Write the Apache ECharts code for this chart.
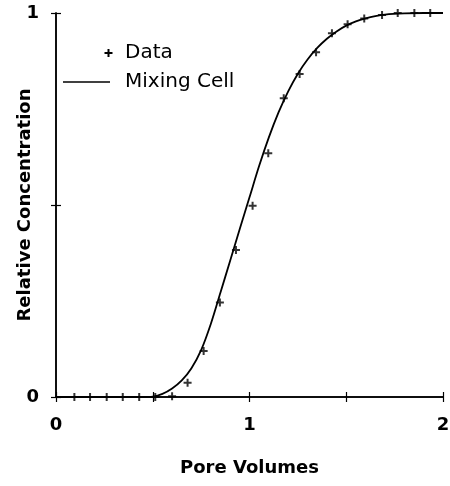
<!DOCTYPE html>
<html>
  <head>
    <meta charset="utf-8" />
    <title>Mixing Cell breakthrough</title>
    <script src="https://cdn.jsdelivr.net/npm/echarts@6.0.0/dist/echarts.min.js"></script>
  </head>
  <body style="margin:0;background:#fff;">
    <div id="main" style="width: 450px;height:486px;"></div>

    <script type="text/javascript">
      // measured data points (pore volumes, relative concentration)
      var dataX = [0.095, 0.176, 0.262, 0.345, 0.43, 0.513, 0.6, 0.68, 0.763, 0.847, 0.93, 1.016,
                   1.097, 1.177, 1.259, 1.344, 1.426, 1.507, 1.593, 1.685, 1.766, 1.852, 1.934];
      var dataY = [0, 0, 0, 0, 0, 0, 0.002, 0.037, 0.12, 0.246, 0.383, 0.498,
                   0.635, 0.778, 0.841, 0.898, 0.947, 0.971, 0.986, 0.995, 1.0, 1.0, 1.0];

      // mixing cell model curve
      var cellX = [0, 0.45, 0.5, 0.55, 0.6, 0.65, 0.7, 0.75, 0.8, 0.85, 0.9, 0.95, 1.0, 1.05, 1.1,
                   1.15, 1.2, 1.25, 1.3, 1.35, 1.4, 1.45, 1.5, 1.55, 1.6, 1.65, 1.7, 1.8, 1.9, 2.0];
      var cellY = [0, 0, 0.001, 0.008, 0.022, 0.043, 0.075, 0.122, 0.19, 0.272, 0.355, 0.438, 0.52, 0.602, 0.676,
                   0.741, 0.796, 0.842, 0.879, 0.909, 0.933, 0.952, 0.967, 0.978, 0.986, 0.992, 0.996, 0.999, 1.0, 1.0];

      var xTickLabels = ['0', '1', '2'];
      var yTickLabels = ['0', '1'];

      var plusPath = 'path://M3,0H5V3H8V5H5V8H3V5H0V3H3Z';
      var font = 'DejaVu Sans';

      var points = dataX.map(function (x, i) { return [x, dataY[i]]; });
      var curve = cellX.map(function (x, i) { return [x, cellY[i]]; });

      function label(list) {
        return function (v) {
          var s = String(Math.round(v * 100) / 100);
          return list.indexOf(s) >= 0 ? s : '';
        };
      }

      var myChart = echarts.init(document.getElementById('main'));

      var axisBase = {
        type: 'value',
        min: 0,
        interval: 0.5,
        splitLine: { show: false },
        axisLine: { lineStyle: { color: '#000', width: 1.5 } },
        axisTick: { inside: true, length: 5, lineStyle: { color: '#000', width: 1.2 } }
      };
      var labelStyle = { fontFamily: font, fontSize: 18, fontWeight: 'bold', color: '#000' };

      option = {
        animation: false,
        backgroundColor: '#fff',
        grid: { left: 56, right: 7, top: 13, bottom: 89, outerBoundsMode: 'none', containLabel: false },
        xAxis: [
          Object.assign({}, axisBase, {
            max: 2,
            name: 'Pore Volumes',
            nameLocation: 'middle',
            nameGap: 62,
            nameMoveOverlap: false,
            nameTextStyle: labelStyle,
            axisLabel: Object.assign({ formatter: label(xTickLabels), margin: 19 }, labelStyle)
          }),
          Object.assign({}, axisBase, { max: 2, position: 'top', axisLabel: { show: false } })
        ],
        yAxis: [
          Object.assign({}, axisBase, {
            max: 1,
            name: 'Relative Concentration',
            nameLocation: 'middle',
            nameGap: 22,
            nameMoveOverlap: false,
            nameTextStyle: labelStyle,
            axisLabel: Object.assign({ formatter: label(yTickLabels), margin: 17 }, labelStyle)
          }),
          Object.assign({}, axisBase, { max: 1, position: 'right', axisLabel: { show: false } })
        ],
        graphic: [
          { type: 'line', shape: { x1: 104.5, y1: 53, x2: 112.5, y2: 53 }, style: { stroke: '#000', lineWidth: 2 } },
          { type: 'line', shape: { x1: 108.5, y1: 49, x2: 108.5, y2: 57 }, style: { stroke: '#000', lineWidth: 2 } },
          { type: 'text', x: 125, y: 53, style: { text: 'Data', font: '20px DejaVu Sans', fill: '#000', verticalAlign: 'middle' } },
          { type: 'line', shape: { x1: 63, y1: 82, x2: 110, y2: 82 }, style: { stroke: '#000', lineWidth: 1.5 } },
          { type: 'text', x: 125, y: 82, style: { text: 'Mixing Cell', font: '20px DejaVu Sans', fill: '#000', verticalAlign: 'middle' } }
        ],
        series: [
          {
            name: 'Mixing Cell',
            type: 'line',
            data: curve,
            smooth: 0.3,
            showSymbol: false,
            lineStyle: { color: '#000', width: 1.8 },
            z: 2
          },
          {
            name: 'Data',
            type: 'scatter',
            data: points,
            symbol: plusPath,
            symbolSize: 8,
            itemStyle: { color: '#000' },
            z: 3
          }
        ]
      };

      myChart.setOption(option);
    </script>
  </body>
</html>
